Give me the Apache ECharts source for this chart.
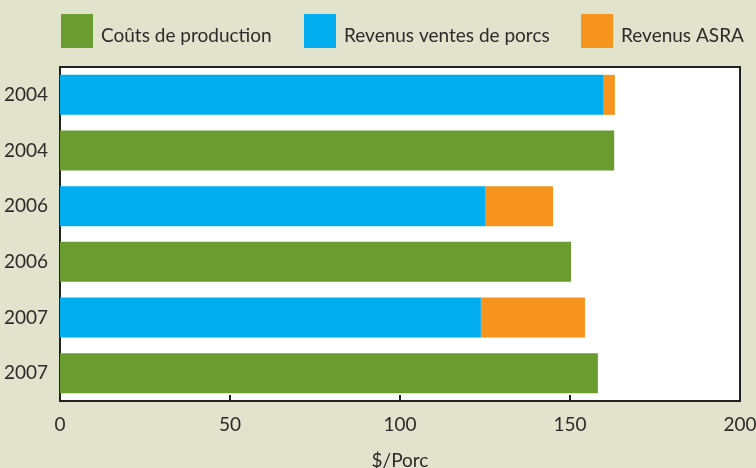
<!DOCTYPE html>
<html><head><meta charset="utf-8">
<script src="https://cdn.jsdelivr.net/npm/echarts@6/dist/echarts.min.js"></script>
<style>html,body{margin:0;padding:0;background:#e2e3cc;}#c{width:756px;height:468px;}</style>
</head><body><div id="c"></div>
<script>
const yLabels = ['2004','2004','2006','2006','2007','2007'];
const seriesNames = ['Coûts de production','Revenus ventes de porcs','Revenus ASRA'];
const couts = [null, 163, null, 150.3, null, 158.2];
const ventes = [159.7, null, 125, null, 123.8, null];
const asra = [3.5, null, 20, null, 30.6, null];
const xTicks = [0, 50, 100, 150, 200];
const colors = ['#6b9c30', '#00adef', '#f7941e'];
const FONT = 'Lato';

const chart = echarts.init(document.getElementById('c'));
const legendLefts = [61, 304, 581];
chart.setOption({
  backgroundColor: '#e2e3cc',
  animation: false,
  color: colors,
  textStyle: {fontFamily: FONT},
  legend: seriesNames.map((n, i) => ({
    data: [n], left: legendLefts[i], top: 14, padding: 0,
    itemWidth: 32, itemHeight: 34, icon: 'rect',
    formatter: name => '{t|' + name + '}',
    textStyle: {fontFamily: FONT, fontSize: 19, color: '#2b2b2b',
      rich: {t: {fontFamily: FONT, fontSize: 19, color: '#2b2b2b', padding: [9, 0, 0, 3]}}}
  })),
  grid: {left: 60, right: 16, top: 67, bottom: 67, outerBoundsMode: 'none', containLabel: false,
         show: true, backgroundColor: '#ffffff', borderColor: '#222', borderWidth: 2},
  xAxis: {
    type: 'value', min: xTicks[0], max: xTicks[xTicks.length - 1], interval: 50,
    name: '$/Porc', nameLocation: 'middle', nameGap: 50,
    nameTextStyle: {fontFamily: FONT, fontSize: 19, color: '#2b2b2b'},
    axisLine: {show: true, lineStyle: {color: '#222', width: 2}},
    axisTick: {show: true, inside: true, length: 6, lineStyle: {color: '#222', width: 2}},
    axisLabel: {fontFamily: FONT, fontSize: 19, color: '#2b2b2b', margin: 14},
    splitLine: {show: false}
  },
  yAxis: {
    type: 'category', inverse: true,
    data: yLabels.map((l, i) => String(i)),
    axisLine: {show: true, lineStyle: {color: '#222', width: 2}},
    axisTick: {show: false},
    axisLabel: {fontFamily: FONT, fontSize: 19, color: '#2b2b2b', margin: 12, formatter: (v, i) => yLabels[i]}
  },
  series: [
    {name: seriesNames[0], type: 'bar', stack: 's', barWidth: 40, data: couts},
    {name: seriesNames[1], type: 'bar', stack: 's', barWidth: 40, data: ventes},
    {name: seriesNames[2], type: 'bar', stack: 's', barWidth: 40, data: asra}
  ]
});
</script></body></html>
